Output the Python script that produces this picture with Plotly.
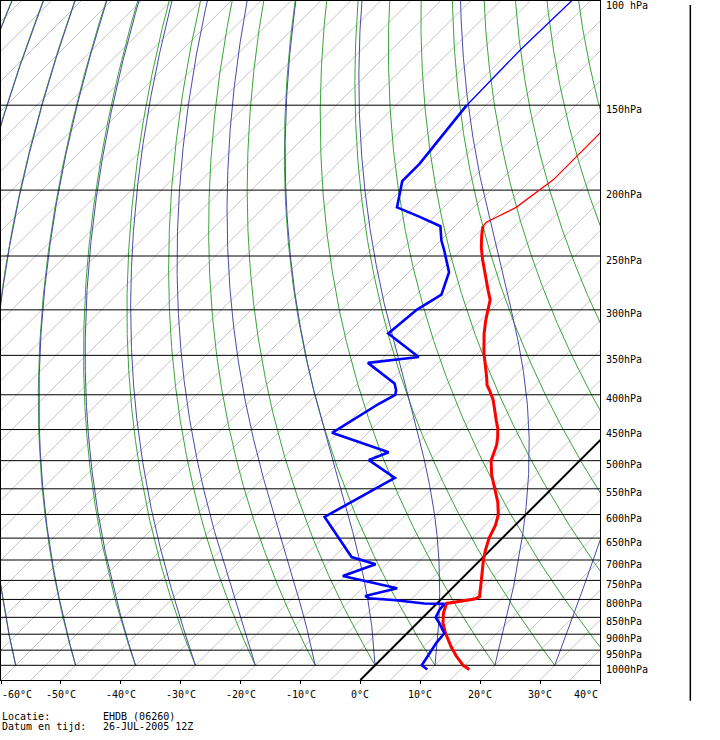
import numpy as np
import plotly.graph_objects as go

# sounding EHDB (06260), 26-JUL-2005 12Z
# temperature, thick part
temp_p = [1014, 1000, 969, 939, 897, 867, 838, 811, 799, 793, 749, 700, 677, 650, 622,
          600, 575, 550, 525, 500, 474, 461, 448, 436, 421, 407, 394, 387, 376, 359,
          347, 325, 311, 300, 290, 281, 267, 253, 243, 233, 226]
temp_t = [16.4, 14.7, 12.0, 9.6, 6.4, 4.3, 2.7, 1.6, 5.5, 6.0, 3.5, 0.5, -0.8, -2.2, -3.3,
          -4.6, -6.8, -9.5, -12.3, -14.8, -16.5, -17.7, -19.1, -20.7, -22.7, -24.6, -26.8, -28.1, -29.6, -32.2,
          -34.0, -37.2, -39.1, -40.5, -41.8, -43.7, -46.7, -49.8, -52.0, -54.0, -55.3]
# temperature, thin part above
temp_top_p = [226, 223, 212, 193, 150]
temp_top_t = [-55.3, -55.4, -52.9, -51.3, -51.3]

# dewpoint, thick part
dew_p = [1014, 1000, 928, 897, 867, 850, 829, 812, 811, 806, 802, 797, 791, 770, 739,
         710, 693, 605, 530, 499, 486, 455, 412, 400, 394, 385, 359, 352, 330, 325,
         300, 290, 285, 264, 253, 245, 237, 226, 219, 212, 194, 183, 150]
dew_t = [9.4, 7.8, 6.5, 6.2, 3.7, 2.1, 1.5, 1.3, -2.1, -4.9, -7.4, -12.1, -13.2, -9.2, -20.3,
         -16.8, -22.0, -33.2, -28.0, -35.3, -33.3, -46.0, -43.0, -41.8, -42.4, -43.8, -51.7, -44.2, -51.6, -53.2,
         -52.4, -51.3, -50.8, -53.3, -55.8, -57.8, -59.9, -62.4, -67.4, -72.8, -76.3, -76.3, -78.2]
# dewpoint, thin part above
dew_top_p = [150, 124, 100]
dew_top_t = [-78.2, -78.5, -78.0]

isobars = [1000, 950, 900, 850, 800, 750, 700, 650, 600, 550, 500, 450, 400, 350, 300, 250, 200, 150]
x_ticks = [-60, -50, -40, -30, -20, -10, 0, 10, 20, 30, 40]
adiabat_t0 = list(range(-120, 110, 10))   # temperature at 1000 hPa
isotherm_t = list(range(-175, 45, 5))

# diagram geometry (plot area 599 x 679 px, isotherms at 45 degrees)
P_BOT = 1051.0
P_TOP = 105.4
PLOT_W, PLOT_H = 599, 679
SKEW = (PLOT_H / np.log(P_BOT / P_TOP)) / (PLOT_W / 100.0)
MONO = "DejaVu Sans Mono"


def skew_x(t, p):
    return np.asarray(t, dtype=float) + SKEW * np.log(P_BOT / np.asarray(p, dtype=float))


def join_lines(xs, ys):
    # several lines in one trace, split by None
    X, Y = [], []
    for x, y in zip(xs, ys):
        X += list(x) + [None]
        Y += list(y) + [None]
    return X, Y


def moist_adiabats(t0, p):
    Rd, Cp, L, eps = 287.04, 1005.7, 2.501e6, 0.622

    def slope(T, pp):
        es = 6.112 * np.exp(17.67 * (T - 273.15) / (T - 29.65))
        rs = eps * es / (pp - es)
        return (Rd * T + L * rs) / (pp * (Cp + L * L * rs * eps / (Rd * T * T)))

    T = np.array(t0, dtype=float) + 273.15
    out = [T.copy()]
    for i in range(1, len(p)):
        dp = p[i] - p[i - 1]
        k1 = slope(T, p[i - 1])
        k2 = slope(T + k1 * dp, p[i])
        T = T + 0.5 * (k1 + k2) * dp
        out.append(T.copy())
    return np.array(out).T - 273.15


fig = go.Figure()

# isotherms
pp = np.array([P_BOT, 100.0])
xs, ys = join_lines([skew_x([t, t], pp) for t in isotherm_t], [pp] * len(isotherm_t))
fig.add_trace(go.Scatter(x=xs, y=ys, mode="lines", line=dict(color="#c4c4c4", width=1), hoverinfo="skip"))

# dry adiabats (green) and moist adiabats (purple), both starting at 1000 hPa
pa = np.linspace(1000, 100, 901)
dry = [(t0 + 273.15) * (pa / 1000.0) ** 0.2857 - 273.15 for t0 in adiabat_t0]
xs, ys = join_lines([skew_x(t, pa) for t in dry], [pa] * len(dry))
fig.add_trace(go.Scatter(x=xs, y=ys, mode="lines", line=dict(color="#3aa43a", width=1), hoverinfo="skip"))

moist = moist_adiabats(adiabat_t0, pa)
xs, ys = join_lines([skew_x(t, pa) for t in moist], [pa] * len(moist))
fig.add_trace(go.Scatter(x=xs, y=ys, mode="lines", line=dict(color="#4a4aaa", width=1), hoverinfo="skip"))

# isobars
xs, ys = join_lines([[-60, 40]] * len(isobars), [[p, p] for p in isobars])
fig.add_trace(go.Scatter(x=xs, y=ys, mode="lines", line=dict(color="black", width=1), hoverinfo="skip"))

# 0 degC isotherm
fig.add_trace(go.Scatter(x=skew_x([0, 0], pp), y=pp, mode="lines", line=dict(color="black", width=2), hoverinfo="skip"))

# profiles
fig.add_trace(go.Scatter(x=skew_x(temp_top_t, temp_top_p), y=temp_top_p, mode="lines", line=dict(color="#ff0000", width=1.3)))
fig.add_trace(go.Scatter(x=skew_x(temp_t, temp_p), y=temp_p, mode="lines", line=dict(color="#ff0000", width=3)))
fig.add_trace(go.Scatter(x=skew_x(dew_top_t, dew_top_p), y=dew_top_p, mode="lines", line=dict(color="#0000ff", width=1.3)))
fig.add_trace(go.Scatter(x=skew_x(dew_t, dew_p), y=dew_p, mode="lines", line=dict(color="#0000ff", width=2.6)))

annotations = []
# temperature labels under the frame
for i, t in enumerate(x_ticks):
    anchor = "left" if i == 0 else ("right" if i == len(x_ticks) - 1 else "center")
    annotations.append(dict(x=t, y=0, xref="x", yref="paper", text=f"{t}°C", showarrow=False,
                            xanchor=anchor, yanchor="middle", yshift=-14, xshift=-1 if i == 0 else 0,
                            font=dict(family=MONO, size=10, color="black")))
# pressure labels on the right
annotations.append(dict(x=1, y=1, xref="paper", yref="paper", text="100 hPa", showarrow=False,
                        xanchor="left", yanchor="middle", xshift=4, yshift=-4,
                        font=dict(family=MONO, size=10, color="black")))
for p in isobars:
    annotations.append(dict(x=1, y=np.log10(p), xref="paper", yref="y", text=f"{p}hPa", showarrow=False,
                            xanchor="left", yanchor="middle", xshift=4, yshift=-4,
                            font=dict(family=MONO, size=10, color="black")))
# station info
info = [("Locatie:", "EHDB (06260)", -36), ("Datum en tijd:", "26-JUL-2005 12Z", -46)]
for label, value, shift in info:
    annotations.append(dict(x=0, y=0, xref="paper", yref="paper", text=label, showarrow=False,
                            xanchor="left", yanchor="middle", xshift=-1, yshift=shift,
                            font=dict(family=MONO, size=10, color="black")))
    annotations.append(dict(x=0, y=0, xref="paper", yref="paper", text=value, showarrow=False,
                            xanchor="left", yanchor="middle", xshift=100, yshift=shift,
                            font=dict(family=MONO, size=10, color="black")))

fig.update_layout(
    width=720, height=740,
    margin=dict(l=1, r=120, t=1, b=60),
    paper_bgcolor="white", plot_bgcolor="white",
    showlegend=False,
    annotations=annotations,
    # empty column on the right for wind
    shapes=[dict(type="line", xref="paper", yref="paper", x0=1.1508, x1=1.1508, y0=0.9941, y1=-0.0305,
                 line=dict(color="black", width=1.5))],
    xaxis=dict(range=[-60, 40], showgrid=False, zeroline=False, showline=True, mirror=True,
               linecolor="black", linewidth=1, ticks="outside", ticklen=3, tickcolor="black",
               tickvals=x_ticks, showticklabels=False),
    yaxis=dict(type="log", range=[np.log10(P_BOT), np.log10(P_TOP)], showgrid=False, zeroline=False,
               showline=True, mirror=True, linecolor="black", linewidth=1, ticks="", showticklabels=False),
)

# page has a default 8px body margin; drop it so the chart sits in the corner
fig.write_html("out.html", config={"displayModeBar": False},
               post_script="document.body.style.margin = '0px';")
